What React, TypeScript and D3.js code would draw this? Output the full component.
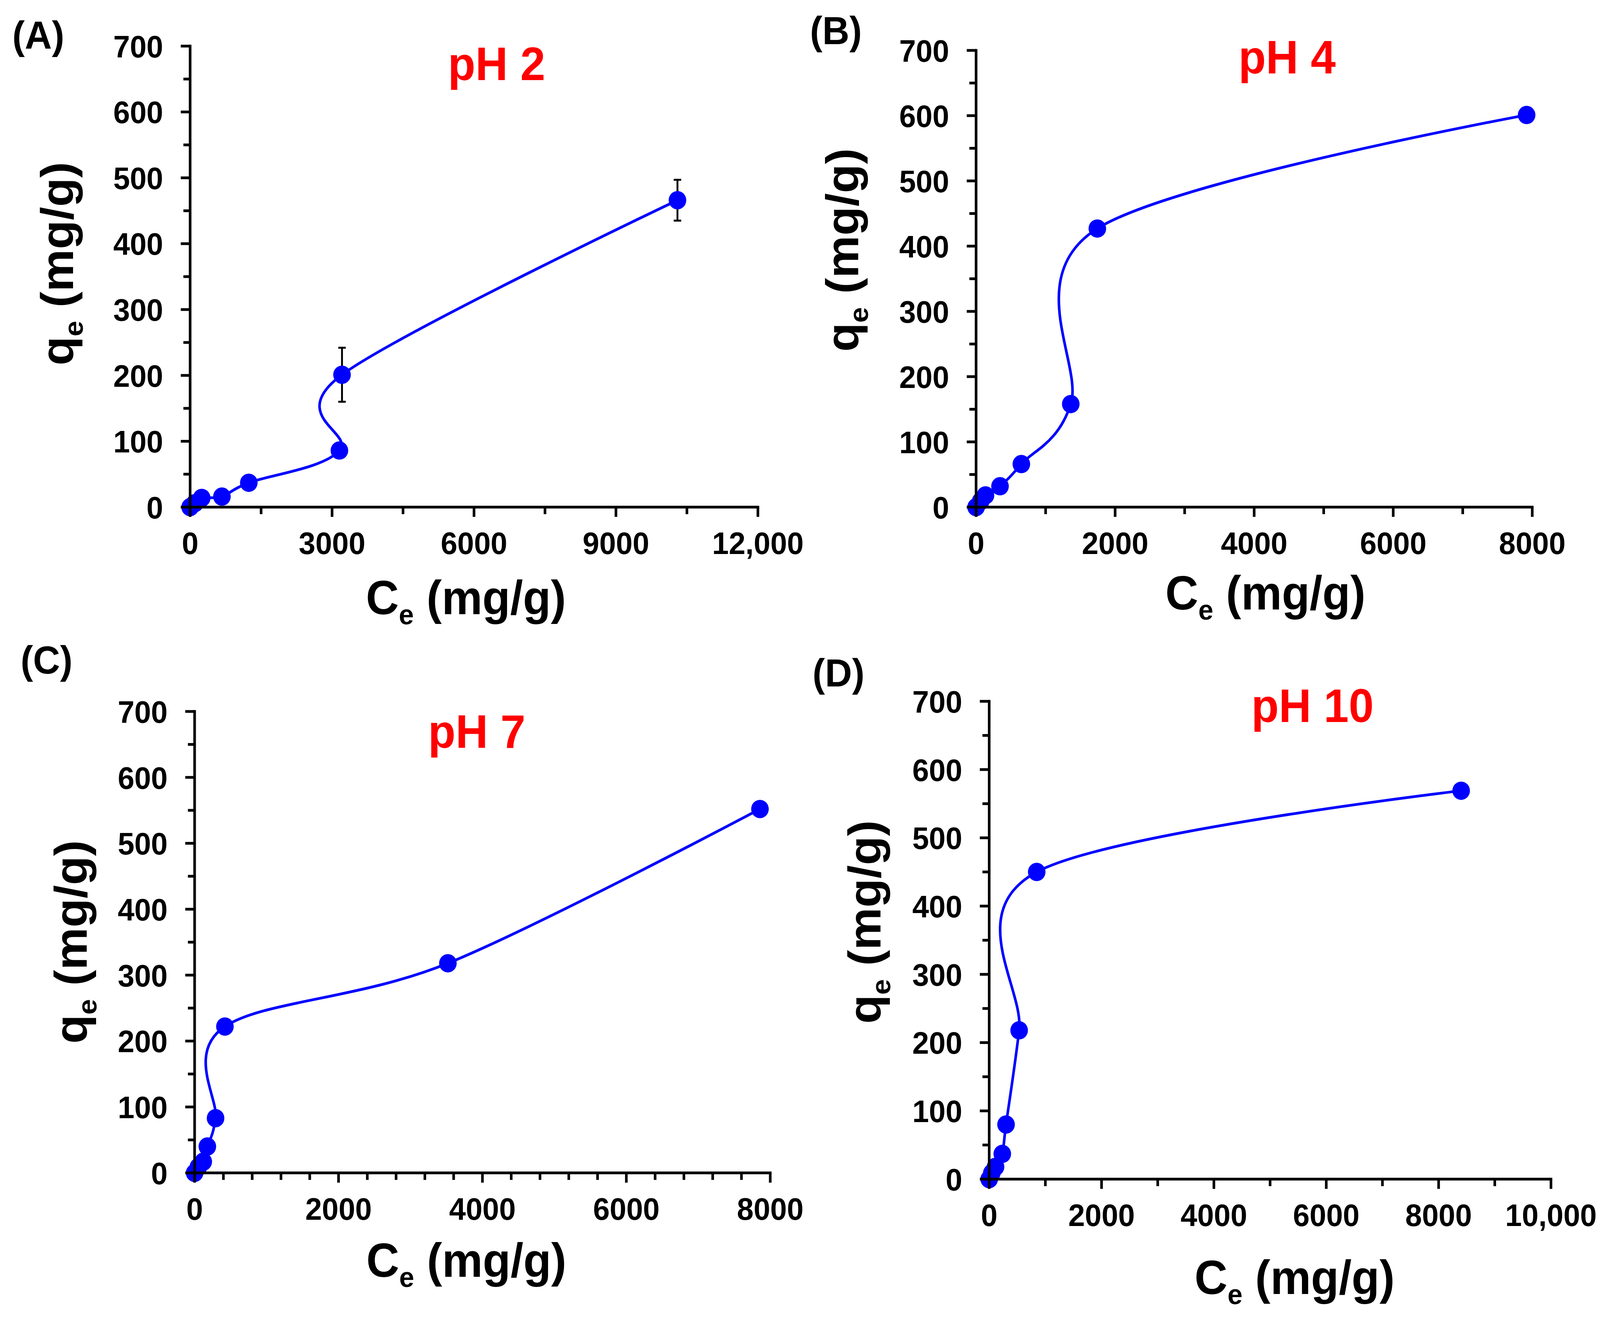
import { useEffect } from "react"
import * as d3 from "d3"

// pH 2
const ceA = [0, 100, 245, 672, 1240, 3155, 3210, 10300]
const qeA = [0, 6, 14, 16, 37, 86, 201, 466]
const errA = [0, 0, 0, 0, 0, 0, 41, 31]

// pH 4
const ceB = [0, 65, 135, 344, 651, 1362, 1744, 7919]
const qeB = [0, 9, 18, 32, 66, 158, 427, 601]

// pH 7
const ceC = [0, 52, 120, 177, 291, 421, 3520, 7857]
const qeC = [0, 9, 17, 40, 83, 222, 318, 552]

// pH 10
const ceD = [0, 47, 113, 233, 300, 533, 846, 8401]
const qeD = [0, 9, 18, 37, 80, 218, 450, 569]

const titles = ["pH 2", "pH 4", "pH 7", "pH 10"]
const letters = ["(A)", "(B)", "(C)", "(D)"]

const yTicks = [0, 100, 200, 300, 400, 500, 600, 700]
const xTicksA = [0, 3000, 6000, 9000, 12000]
const xLabelsA = ["0", "3000", "6000", "9000", "12,000"]
const xTicks8k = [0, 2000, 4000, 6000, 8000]
const xLabels8k = ["0", "2000", "4000", "6000", "8000"]
const xTicksD = [0, 2000, 4000, 6000, 8000, 10000]
const xLabelsD = ["0", "2000", "4000", "6000", "8000", "10,000"]

type Layout = {
  left: number
  right: number
  top: number
  bottom: number
  xLabel: [number, number]
  yLabel: [number, number]
  title: [number, number]
  letter: [number, number]
}

const layouts: Layout[] = [
  { left: 508, right: 2025, top: 118, bottom: 1298, xLabel: [1245, 1572], yLabel: [195, 675], title: [1327, 205], letter: [33, 125] },
  { left: 2608, right: 4094, top: 129, bottom: 1298, xLabel: [3381, 1560], yLabel: [2293, 640], title: [3439, 188], letter: [2164, 113] },
  { left: 520, right: 2058, top: 1821, bottom: 3002, xLabel: [1246, 3268], yLabel: [232, 2411], title: [1274, 1914], letter: [55, 1724] },
  { left: 2643, right: 4144, top: 1795, bottom: 3018, xLabel: [3459, 3312], yLabel: [2353, 2360], title: [3507, 1848], letter: [2171, 1757] },
]

const FONT = "'Liberation Sans', Arial, Helvetica, sans-serif"
const BLUE = "#0000ff"

type PanelProps = {
  layout: Layout
  ce: number[]
  qe: number[]
  err?: number[]
  xMax: number
  xTicks: number[]
  xLabels: string[]
  xMinor: number
  title: string
  letter: string
}

function Panel({ layout, ce, qe, err, xMax, xTicks, xLabels, xMinor, title, letter }: PanelProps) {
  const x = d3.scaleLinear().domain([0, xMax]).range([layout.left, layout.right])
  const y = d3.scaleLinear().domain([0, 700]).range([layout.bottom, layout.top])

  const pts: [number, number][] = ce.map((c, i) => [x(c), y(qe[i])])
  const path = d3.line().curve(d3.curveCardinal.tension(0))(pts) || ""

  const yMinor = d3.range(50, 700, 100)
  const xMinorTicks = d3.range(0, xMax + 1, xMinor).filter((v) => !xTicks.includes(v))

  const sw = 7
  const major = 25
  const minor = 18

  return (
    <g>
      {/* smoothed curve */}
      <path d={path} fill="none" stroke={BLUE} strokeWidth={7} />

      {/* error bars */}
      {err &&
        err.map((e, i) =>
          e > 0 ? (
            <g key={"e" + i} stroke="#000" strokeWidth={5}>
              <line x1={x(ce[i])} x2={x(ce[i])} y1={y(qe[i] - e)} y2={y(qe[i] + e)} />
              <line x1={x(ce[i]) - 10} x2={x(ce[i]) + 10} y1={y(qe[i] + e)} y2={y(qe[i] + e)} />
              <line x1={x(ce[i]) - 10} x2={x(ce[i]) + 10} y1={y(qe[i] - e)} y2={y(qe[i] - e)} />
            </g>
          ) : null,
        )}

      {/* markers */}
      {pts.map((p, i) => (
        <circle key={"p" + i} cx={p[0]} cy={p[1]} r={23.5} fill={BLUE} />
      ))}

      {/* axes */}
      <g stroke="#000" strokeWidth={sw}>
        <line x1={layout.left} x2={layout.left} y1={layout.top - sw / 2} y2={layout.bottom + sw / 2} />
        <line x1={layout.left - sw / 2} x2={layout.right + sw / 2} y1={layout.bottom} y2={layout.bottom} />
        {yTicks.map((t) => (
          <line key={"yt" + t} x1={layout.left - major} x2={layout.left} y1={y(t)} y2={y(t)} />
        ))}
        {yMinor.map((t) => (
          <line key={"ym" + t} x1={layout.left - minor} x2={layout.left} y1={y(t)} y2={y(t)} />
        ))}
        {xTicks.map((t) => (
          <line key={"xt" + t} x1={x(t)} x2={x(t)} y1={layout.bottom} y2={layout.bottom + major} />
        ))}
        {xMinorTicks.map((t) => (
          <line key={"xm" + t} x1={x(t)} x2={x(t)} y1={layout.bottom} y2={layout.bottom + minor} />
        ))}
      </g>

      {/* tick labels */}
      <g fontFamily={FONT} fontWeight="bold" fontSize={80} fill="#000">
        {yTicks.map((t) => (
          <text key={"yl" + t} x={layout.left - 72} y={y(t)} dy="0.36em" textAnchor="end">
            {t}
          </text>
        ))}
        {xTicks.map((t, i) => (
          <text key={"xl" + t} x={x(t)} y={layout.bottom + 120} textAnchor="middle">
            {xLabels[i]}
          </text>
        ))}
      </g>

      {/* axis titles */}
      <text x={layout.xLabel[0]} y={layout.xLabel[1]} textAnchor="middle" fontFamily={FONT} fontWeight="bold" fontSize={122}>
        <tspan>C</tspan>
        <tspan fontSize={72} dy={26}>e</tspan>
        <tspan dy={-26}> (mg/g)</tspan>
      </text>
      <text
        transform={`translate(${layout.yLabel[0]},${layout.yLabel[1]}) rotate(-90)`}
        textAnchor="middle"
        fontFamily={FONT}
        fontWeight="bold"
        fontSize={122}
      >
        <tspan>q</tspan>
        <tspan fontSize={72} dy={26}>e</tspan>
        <tspan dy={-26}> (mg/g)</tspan>
      </text>

      {/* panel title and letter */}
      <text x={layout.title[0]} y={layout.title[1]} textAnchor="middle" fontFamily={FONT} fontWeight="bold" fontSize={120} fill="#ff0000">
        {title}
      </text>
      <text x={layout.letter[0]} y={layout.letter[1]} fontFamily={FONT} fontWeight="bold" fontSize={100} fill="#000">
        {letter}
      </text>
    </g>
  )
}

export default function App() {
  useEffect(() => {
    document.body.style.margin = "0"
    document.body.style.overflow = "hidden"
  }, [])

  return (
    <svg
      viewBox="0 0 4275 3376"
      preserveAspectRatio="none"
      style={{ position: "fixed", left: 0, top: 0, width: "100vw", height: "100vh", background: "#fff", display: "block" }}
    >
      <rect width={4275} height={3376} fill="#fff" />
      <Panel layout={layouts[0]} ce={ceA} qe={qeA} err={errA} xMax={12000} xTicks={xTicksA} xLabels={xLabelsA} xMinor={1500} title={titles[0]} letter={letters[0]} />
      <Panel layout={layouts[1]} ce={ceB} qe={qeB} xMax={8000} xTicks={xTicks8k} xLabels={xLabels8k} xMinor={1000} title={titles[1]} letter={letters[1]} />
      <Panel layout={layouts[2]} ce={ceC} qe={qeC} xMax={8000} xTicks={xTicks8k} xLabels={xLabels8k} xMinor={400} title={titles[2]} letter={letters[2]} />
      <Panel layout={layouts[3]} ce={ceD} qe={qeD} xMax={10000} xTicks={xTicksD} xLabels={xLabelsD} xMinor={1000} title={titles[3]} letter={letters[3]} />
    </svg>
  )
}
